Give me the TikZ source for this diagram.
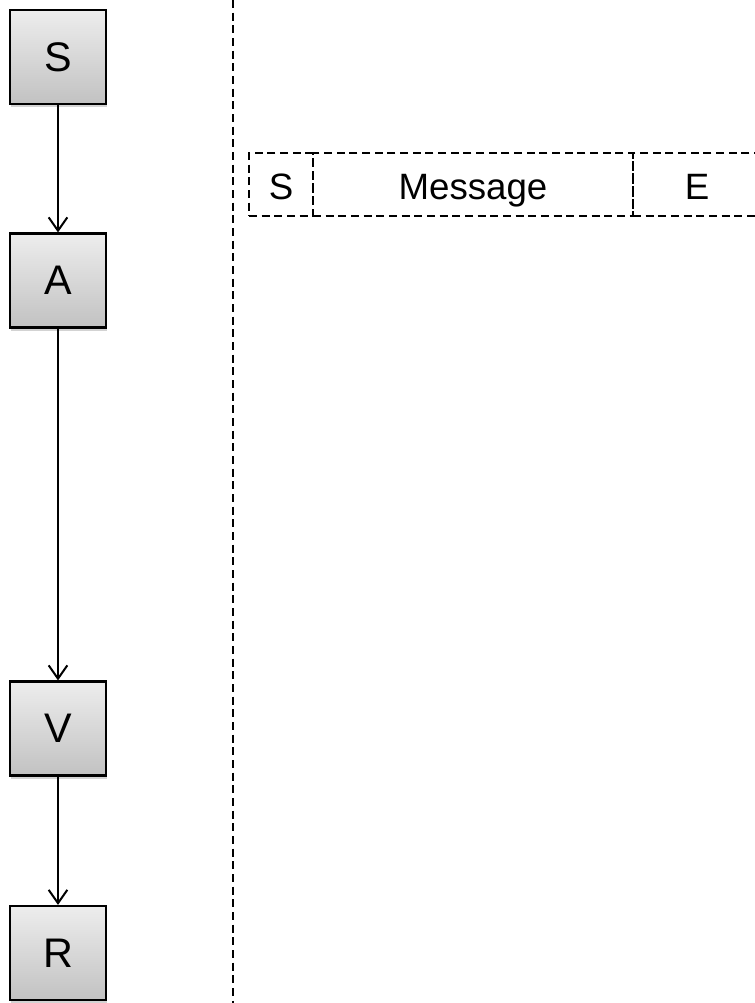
\documentclass[tikz,border=0pt]{standalone}
\usepackage{fontspec}
\setmainfont{Liberation Sans}
\usepackage{tikz}
\usetikzlibrary{arrows.meta,shadows}

\tikzset{
  station/.style={draw, line width=1.6pt, minimum width=72pt, minimum height=70.5pt,
    top color=black!7, bottom color=black!24, font=\fontsize{31}{31}\selectfont,
    drop shadow={opacity=0.35, shadow xshift=0.6pt, shadow yshift=-2.4pt}},
  flow/.style={line width=1.5pt, -{Straight Barb[length=10pt,width=14pt,line width=1.5pt]}},
  cut/.style={dashed, dash pattern=on 6pt off 3.5pt, line width=1.3pt},
  field/.style={draw, cut, minimum height=47.25pt, inner sep=0pt,
    text height=24pt, text depth=2.2pt, font=\fontsize{27.5}{27.5}\selectfont},
}

\begin{document}
\begin{tikzpicture}[x=0.75pt, y=-0.75pt]
    \useasboundingbox (0,0) rectangle (755,1003);

    % stations on the left
    \node[station] (s) at (58, 57)    {S};
    \node[station] (a) at (58, 280.5) {A};
    \node[station] (v) at (58, 728.5) {V};
    \node[station] (r) at (58, 953)   {R};

    \draw[flow] (s) -- (a);
    \draw[flow] (a) -- (v);
    \draw[flow] (v) -- (r);

    % separator
    \coordinate (top) at (233, 0);
    \coordinate (bot) at (233, 1003);
    \draw[cut] (top) -- (bot);

    % frame fields
    \node[field, minimum width=48pt]  (fs) at (281, 184.5) {S};
    \node[field, minimum width=240pt] (fm) at (473, 184.5) {Message};
    \node[field, minimum width=96pt]  (fe) at (697, 184.5) {E};
\end{tikzpicture}
\end{document}
